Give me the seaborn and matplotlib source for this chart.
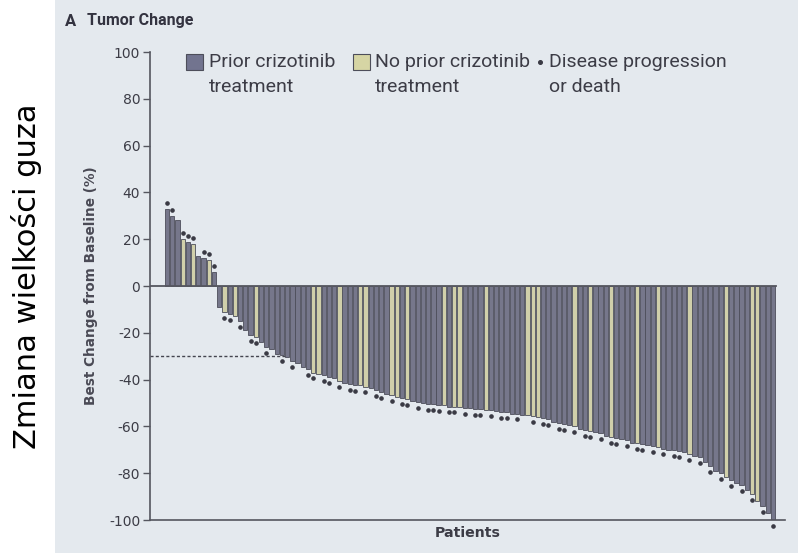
import matplotlib
matplotlib.use("Agg")
import matplotlib.pyplot as plt
from matplotlib.patches import Patch
from matplotlib.lines import Line2D
import numpy as np
import pandas as pd
import seaborn as sns

# ---------------- data ----------------
positive_values = [33, 30, 28, 20, 19, 18, 13, 12, 11, 6]
positive_groups = ["P", "P", "P", "N", "P", "N", "P", "P", "N", "P"]

negative_values = [
    -9, -11, -12, -13, -15, -19, -21, -22, -24, -26,
    -27, -29, -29.5, -30.5, -32, -33, -34.5, -35.5, -37, -37.5,
    -38, -39, -39.5, -40.5, -41.5, -42, -42.5, -42.5, -43, -43.5,
    -44.5, -45.5, -46, -46.5, -47.5, -48, -48.5, -49, -49.5, -50,
    -50.5, -50.5, -51, -51, -51.5, -51.5, -51.5, -52, -52, -52.5,
    -52.5, -53, -53, -53.5, -54, -54, -54.5, -54.5, -55, -55,
    -55.5, -56, -56.5, -57, -58, -58.5, -59, -59.5, -60, -61,
    -61.5, -62, -62.5, -63, -64, -64.5, -65, -65.5, -66, -67,
    -67, -67.5, -68, -68.5, -69, -69.5, -70, -70, -70.5, -71,
    -72, -72.5, -73, -75, -77, -79, -80, -81.5, -83, -84,
    -85, -87, -89, -92, -94, -97, -100,
]
negative_no_prior = [1, 3, 7, 18, 19, 23, 27, 28, 33, 34, 36, 43, 45, 46, 51,
                     59, 60, 61, 68, 71, 75, 80, 84, 90, 97, 102, 103]

positive_dots = [0, 1, 3, 4, 5, 7, 8, 9]
negative_dots = [1, 2, 4, 6, 7, 9, 12, 14, 17, 18, 20, 21, 23, 25, 26, 28, 30,
                 31, 33, 35, 36, 38, 40, 41, 42, 44, 45, 47, 49, 50, 52, 54,
                 55, 57, 60, 62, 63, 65, 66, 68, 70, 71, 73, 75, 76, 78, 80,
                 81, 83, 85, 87, 88, 90, 92, 94, 96, 98, 100, 102, 104, 106]

THRESHOLD = -30
y_ticks = [100, 80, 60, 40, 20, 0, -20, -40, -60, -80, -100]

label_prior = "Prior crizotinib\ntreatment"
label_noprior = "No prior crizotinib\ntreatment"
label_dot = "Disease progression\nor death"

# ---------------- build table ----------------
values = positive_values + negative_values
groups = positive_groups + ["N" if i in negative_no_prior else "P"
                            for i in range(len(negative_values))]
n_pos = len(positive_values)
dot_idx = positive_dots + [n_pos + i for i in negative_dots]

df = pd.DataFrame({"patient": np.arange(len(values)),
                   "change": values,
                   "group": groups})

c_prior = "#72748f"
c_noprior = "#d6d5a4"
edge = "#4d4e5a"
bg = "#e4e9ee"
txt = "#3c3c46"
humanist = ["Roboto", "DejaVu Sans"]

# ---------------- figure ----------------
fig = plt.figure(figsize=(7.98, 5.53), dpi=100, facecolor="white")

# photo-like background panel
bgax = fig.add_axes([55 / 798, 0, 1 - 55 / 798, 1])
bgax.set_facecolor(bg)
bgax.set_xticks([]); bgax.set_yticks([])
for s in bgax.spines.values():
    s.set_visible(False)

ax = fig.add_axes([150 / 798, 33 / 553, 635 / 798, 468 / 553])
ax.set_facecolor("none")

sns.barplot(data=df, x="patient", y="change", hue="group",
            palette={"P": c_prior, "N": c_noprior}, dodge=False,
            width=0.82, edgecolor=edge, linewidth=0.6, legend=False,
            ax=ax, zorder=2)

dots_x = np.array(dot_idx)
dots_y = np.array([values[i] + (2.5 if values[i] > 0 else -2.5) for i in dot_idx])
ax.plot(dots_x, dots_y, ls="none", marker="o", ms=2.3, color="#3a3a44",
        zorder=3, clip_on=False)

n = len(values)
x_left = -3.25
x_right = n + 1.3
ax.set_xlim(x_left, x_right)
ax.set_ylim(-100, 100)

# zero line
ax.plot([x_left, n - 0.5], [0, 0], color="#55565f", lw=1.3, zorder=4)

# -30% threshold dashed line, ending where the bars cross it
cross = next(i for i, v in enumerate(values) if v <= THRESHOLD)
ax.plot([x_left, cross - 0.5], [THRESHOLD, THRESHOLD], color="#44454f",
        lw=1.0, ls=(0, (2.2, 1.6)), zorder=1)

ax.set_yticks(y_ticks)
ax.set_yticklabels([str(t) for t in y_ticks], color=txt, fontsize=10,
                   family="DejaVu Sans")
ax.set_xticks([])
ax.tick_params(axis="y", direction="out", length=5, width=1.0, color="#55565f",
               pad=2)
for side in ["top", "right"]:
    ax.spines[side].set_visible(False)
ax.spines["left"].set_color("#55565f")
ax.spines["bottom"].set_color("#55565f")
ax.spines["left"].set_linewidth(1.2)
ax.spines["bottom"].set_linewidth(1.2)

ax.set_xlabel("Patients", fontsize=10.2, fontweight="bold", color=txt,
              labelpad=4, family="DejaVu Sans")
ax.set_ylabel("Best Change from Baseline (%)", fontsize=9.8, fontweight="bold",
              color="#4a4a55", labelpad=8, family="DejaVu Sans")

# legends
prop = {"family": humanist, "size": 14}
h1 = [Patch(facecolor=c_prior, edgecolor=edge, lw=0.8),
      Patch(facecolor=c_noprior, edgecolor=edge, lw=0.8)]
leg1 = ax.legend(h1, [label_prior, label_noprior], ncol=2, loc="upper left",
                 bbox_to_anchor=((186 - 150) / 635, 0.997), frameon=False,
                 handlelength=0.87, handleheight=0.87, handletextpad=0.3,
                 columnspacing=0.9, labelcolor=txt, borderpad=0,
                 borderaxespad=0, prop=prop)
ax.add_artist(leg1)
h2 = [Line2D([], [], ls="none", marker="o", ms=2.6, color="#3a3a44")]
leg2 = ax.legend(h2, [label_dot], loc="upper left",
                 bbox_to_anchor=((536 - 150) / 635, 0.997), frameon=False,
                 handlelength=0.45, handletextpad=0.2, labelcolor=txt,
                 borderpad=0, borderaxespad=0, prop=prop)
for lg in (leg1, leg2):
    for t in lg.get_texts():
        t.set_linespacing(1.45)

# align legend keys with the first text line (as in the reference)
shift_pt = 9.5
for hnd in leg1.legend_handles:
    hnd.set_y(hnd.get_y() + shift_pt)
for hnd in leg2.legend_handles:
    hnd.set_ydata(np.asarray(hnd.get_ydata(), dtype=float) + shift_pt)

fig.text(65 / 798, 1 - 21 / 553, "A", fontsize=12, fontweight="bold",
         color="#333340", va="center", ha="left", family=humanist)
fig.text(87 / 798, 1 - 21 / 553, "Tumor Change", fontsize=11.5, fontweight="bold",
         color="#333340", va="center", ha="left", family=humanist)

fig.text(27 / 798, 0.5, "Zmiana wielkości guza", rotation=90, fontsize=22,
         color="black", va="center", ha="center", family="DejaVu Sans")

fig.savefig("out.png", dpi=100, facecolor="white")
